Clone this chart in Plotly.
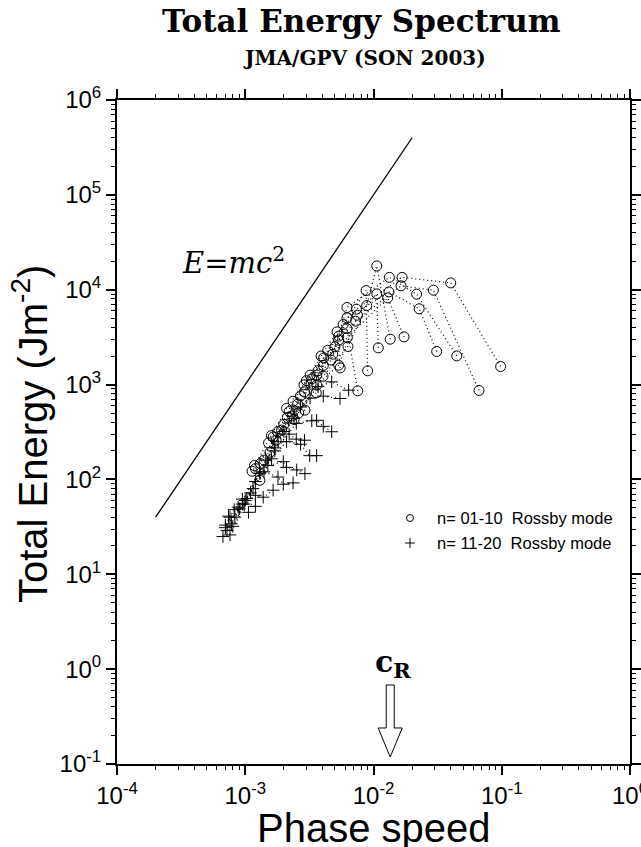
import math
import plotly.graph_objects as go

# ---------------- data ----------------
# n = 01-10 Rossby modes (circles); None separates the dotted polylines
circ_c = [0.098, 0.040, 0.0167, 0.00735, 0.00535, 0.00409, 0.00287, 0.00192, 0.00113, None,
          0.0665, 0.0293, 0.0164, 0.00726, 0.00535, 0.00361, 0.00256, 0.00174, None,
          0.0446, 0.0217, 0.0133, 0.00621, 0.00481, 0.00321, 0.00236, 0.00156, None,
          0.0311, 0.0227, 0.0132, 0.00621, 0.00467, 0.00326, 0.00233, 0.0014, None,
          0.0173, 0.0129, 0.00625, 0.00406, 0.00358, 0.00213, 0.00131, None,
          0.0135, 0.0106, 0.00885, 0.00632, 0.00404, 0.0029, 0.0024, 0.00152, None,
          0.0109, 0.0106, 0.0075, 0.00535, 0.00361, 0.00261, 0.00179, 0.0013, None,
          0.0090, 0.00875, 0.0058, 0.0044, 0.0033, 0.00292, 0.0022, 0.00165, None,
          0.00754, 0.0062, 0.0050, 0.0037, 0.0027, 0.0020, 0.0012, None,
          0.0055, 0.0052, 0.0039, 0.0030, 0.0021, 0.0016, 0.00118]
circ_E = [1550, 11800, 13500, 6230, 3240, 1910, 993, 331, 122, None,
          867, 9880, 11000, 4660, 2940, 1257, 621, 259, None,
          2006, 8970, 13500, 6490, 2090, 1257, 668, 194, None,
          2233, 6300, 9480, 5050, 1810, 1010, 468, 160, None,
          3184, 8200, 3130, 1590, 818, 450, 147, None,
          3010, 17800, 6810, 2520, 1225, 838, 429, 243, None,
          2438, 9030, 5390, 1600, 986, 503, 318, 98, None,
          1396, 9800, 4300, 2300, 1150, 537, 520, 280, None,
          859, 3900, 2500, 1400, 760, 380, 130, None,
          1500, 3600, 2000, 1100, 560, 290, 140]

# n = 11-20 Rossby modes (pluses)
plus_c = [0.0064, 0.00472, 0.0037, 0.0027, 0.0020, 0.00145, 0.00103, None,
          0.00548, 0.00406, 0.0032, 0.0024, 0.0018, 0.0013, 0.00088, None,
          0.00472, 0.00406, 0.0036, 0.0033, 0.0025, 0.0017, 0.0012, 0.0008, None,
          0.0036, 0.00318, 0.0027, 0.0021, 0.0016, 0.00115, 0.00083, None,
          0.0029, 0.0025, 0.0022, 0.0017, 0.0013, 0.00095, 0.00074, None,
          0.00292, 0.00252, 0.0021, 0.00198, 0.0015, 0.0011, 0.00076, None,
          0.00236, 0.00198, 0.0018, 0.0014, 0.0010, 0.0007, None,
          0.00165, 0.00138, 0.0012, 0.00098, 0.00078, 0.00067, None,
          0.00106, 0.0009, 0.00076, 0.00072, None,
          0.0012, 0.00095, 0.00082, 0.0007]
plus_E = [873, 1068, 950, 580, 320, 160, 63, None,
          713, 755, 720, 440, 250, 120, 51, None,
          318, 363, 420, 415, 390, 200, 95, 32, None,
          178, 178, 235, 250, 165, 80, 40, None,
          259, 266, 300, 215, 115, 55, 41, None,
          115, 126, 134, 154, 140, 72, 26, None,
          92, 89, 106, 120, 60, 31, None,
          77, 65, 68, 55, 34, 25, None,
          45, 49, 40, 29, None,
          52, 62, 48, 33]

# E = m c^2 reference line
line_c = [2e-4, 2e-2]
line_E = [40, 4e5]

# Rossby phase speed marker
c_R = 0.0135

x_tickvals = [1e-4, 1e-3, 1e-2, 1e-1, 1]
x_ticktext = ["10<sup>-4</sup>", "10<sup>-3</sup>", "10<sup>-2</sup>", "10<sup>-1</sup>", "10<sup>0</sup>"]
y_tickvals = [1e-1, 1, 10, 1e2, 1e3, 1e4, 1e5, 1e6]
y_ticktext = ["10<sup>-1</sup>", "10<sup>0</sup>", "10<sup>1</sup>", "10<sup>2</sup>",
              "10<sup>3</sup>", "10<sup>4</sup>", "10<sup>5</sup>", "10<sup>6</sup>"]

legend_labels = ["n=\u00a001-10\u00a0\u00a0Rossby mode", "n=\u00a011-20\u00a0\u00a0Rossby mode"]

# ---------------- figure ----------------
W, H = 641, 847
ML, MR, MT, MB = 117, 11, 100, 83
pw, ph = W - ML - MR, H - MT - MB
SANS = "Liberation Sans, Arial, Helvetica, sans-serif"
SERIF = "DejaVu Serif, serif"


def py2y(py):
    return (H - MB - py) / ph


def px2paper(px):
    return (px - ML) / pw


fig = go.Figure()

fig.add_trace(go.Scatter(x=line_c, y=line_E, mode="lines",
                         line=dict(color="black", width=1.3), showlegend=False, hoverinfo="skip"))

fig.add_trace(go.Scatter(x=plus_c, y=plus_E, mode="lines+markers", connectgaps=False,
                         line=dict(color="black", width=1.2, dash="1px,3px"),
                         marker=dict(symbol="cross-thin-open", size=9, color="black",
                                     line=dict(width=1, color="black")),
                         showlegend=False))
fig.add_trace(go.Scatter(x=circ_c, y=circ_E, mode="lines+markers", connectgaps=False,
                         line=dict(color="black", width=1.2, dash="1px,3px"),
                         marker=dict(symbol="circle-open", size=10, color="black",
                                     line=dict(width=1, color="black")),
                         showlegend=False))

# legend (manual) on an overlay axis in paper-like units
leg_x = px2paper(410)
leg_y = [py2y(518), py2y(543)]
fig.add_trace(go.Scatter(x=[leg_x], y=[leg_y[0]], xaxis="x2", yaxis="y2", mode="markers",
                         marker=dict(symbol="circle-open", size=7, color="black", line=dict(width=1)),
                         showlegend=False, hoverinfo="skip"))
fig.add_trace(go.Scatter(x=[leg_x], y=[leg_y[1]], xaxis="x2", yaxis="y2", mode="markers",
                         marker=dict(symbol="cross-thin-open", size=7, color="black", line=dict(width=1)),
                         showlegend=False, hoverinfo="skip"))

annotations = []
for lab, yy in zip(legend_labels, leg_y):
    annotations.append(dict(x=px2paper(435), y=yy, xref="paper", yref="paper", text=lab, showarrow=False,
                            xanchor="left", yanchor="middle", font=dict(family=SANS, size=16.5, color="black")))

# titles
annotations.append(dict(x=px2paper(361), y=py2y(21), xref="paper", yref="paper", text="<b>Total Energy Spectrum</b>",
                        showarrow=False, xanchor="center", yanchor="middle",
                        font=dict(family=SERIF, size=31, color="black")))
annotations.append(dict(x=px2paper(364), y=py2y(58), xref="paper", yref="paper", text="<b>JMA/GPV (SON 2003)</b>",
                        showarrow=False, xanchor="center", yanchor="middle",
                        font=dict(family=SERIF, size=20, color="black")))
# axis titles
annotations.append(dict(x=px2paper(374), y=py2y(828), xref="paper", yref="paper",
                        text="Phase speed", showarrow=False, xanchor="center", yanchor="middle",
                        font=dict(family=SANS, size=40, color="black")))
annotations.append(dict(x=px2paper(30), y=py2y(434), xref="paper", yref="paper",
                        text="Total Energy (Jm<sup>-2</sup>)", textangle=-90, showarrow=False,
                        xanchor="center", yanchor="middle",
                        font=dict(family=SANS, size=40, color="black")))
# E = mc^2
annotations.append(dict(x=px2paper(233), y=py2y(261), xref="paper", yref="paper",
                        text="<i>E</i>=<i>mc</i><sup>2</sup>", showarrow=False, xanchor="center", yanchor="middle",
                        font=dict(family=SERIF, size=29, color="black")))

# c_R label and hollow arrow (placed at c_R on the log x axis)
xc = (math.log10(c_R) + 4) / 4
annotations.append(dict(x=xc + 3 / pw, y=py2y(663), xref="paper", yref="paper",
                        text="<b>c<sub>R</sub></b>", showarrow=False, xanchor="center", yanchor="middle",
                        font=dict(family=SERIF, size=30, color="black")))


def px2x(dx):
    return xc + dx / pw


arrow = [(px2x(-4), py2y(685)), (px2x(4), py2y(685)), (px2x(4), py2y(728)), (px2x(12), py2y(728)),
         (px2x(0), py2y(757)), (px2x(-12), py2y(728)), (px2x(-4), py2y(728))]
path = "M " + " L ".join(f"{a:.5f},{b:.5f}" for a, b in arrow) + " Z"
shapes = [dict(type="path", path=path, xref="paper", yref="paper",
               line=dict(color="black", width=1), fillcolor="white")]

minor_x = [m * 10 ** e for e in range(-4, 0) for m in range(2, 10)]
minor_y = [m * 10 ** e for e in range(-1, 6) for m in range(2, 10)]

axis_common = dict(type="log", showgrid=False, zeroline=False, showline=True, linewidth=2,
                   linecolor="black", mirror="ticks", ticks="outside", ticklen=9, tickwidth=1.5,
                   tickcolor="black", automargin=False, ticklabeloverflow="allow",
                   tickfont=dict(family=SANS, size=24, color="black"))

fig.update_layout(
    width=W, height=H, margin=dict(l=ML, r=MR, t=MT, b=MB),
    paper_bgcolor="white", plot_bgcolor="white", showlegend=False,
    xaxis=dict(range=[-4, 0], tickvals=x_tickvals, ticktext=x_ticktext,
               minor=dict(tickvals=minor_x, ticks="outside", ticklen=4, tickwidth=1, tickcolor="black"),
               **axis_common),
    yaxis=dict(range=[-1, 6], tickvals=y_tickvals, ticktext=y_ticktext,
               minor=dict(tickvals=minor_y, ticks="outside", ticklen=4, tickwidth=1, tickcolor="black"),
               **axis_common),
    xaxis2=dict(overlaying="x", range=[0, 1], visible=False, fixedrange=True),
    yaxis2=dict(overlaying="y", range=[0, 1], visible=False, fixedrange=True),
    annotations=annotations, shapes=shapes,
)

fig.write_html("out.html")
